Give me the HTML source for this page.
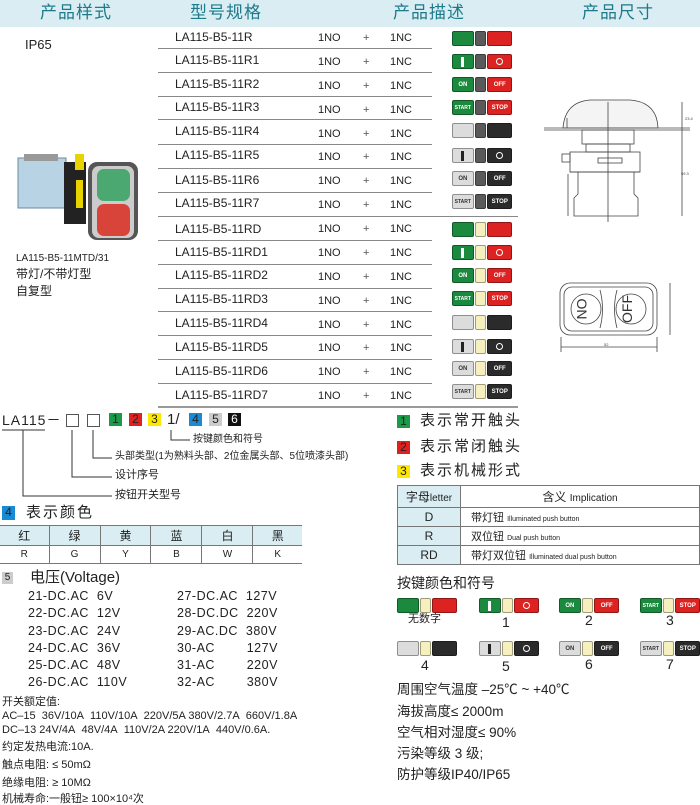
<!DOCTYPE html>
<html><head><meta charset="utf-8"><style>
*{margin:0;padding:0;box-sizing:border-box}
body{width:700px;height:804px;background:#fff;position:relative;overflow:hidden;font-family:"Liberation Sans","Noto Sans CJK SC",sans-serif;color:#222}
.t{position:absolute;white-space:nowrap;line-height:1}
.hd{position:absolute;left:0;top:0;width:700px;height:27px;background:#d9edf3}
.h{position:absolute;top:4px;font-size:17px;color:#1d7a8a;line-height:1;letter-spacing:1px}
.ln{position:absolute;height:1px;background:#888}
.ic{position:absolute;width:60px;height:15px;display:flex;gap:1px}
.ic i{display:flex;align-items:center;justify-content:center;font-style:normal;font-size:6px;font-weight:bold;color:#fff;border-radius:2px;height:15px;border:1px solid rgba(0,0,0,.35)}
.ic i:first-child{width:22px}.ic i:nth-child(2){width:12px}.ic i:last-child{width:25px}
.g{background:#1b8a3e}.r{background:#dd2222}.m{background:#5a5a5a}.y{background:#f6efbe!important}.w{background:#dcdcdc;color:#333!important}.k{background:#2b2b2b}
.bar{display:block;width:3px;height:10px;background:#fff}
.w .bar{background:#222}
.o{display:block;width:7px;height:7px;border:1px solid #fff;border-radius:50%}
.sq{position:absolute;width:13px;height:13px;font-size:12px;line-height:13px;text-align:center;color:#222}
table{border-collapse:collapse;position:absolute}
td{border:1px solid #777;text-align:center}
.col{position:absolute;top:27px;font-size:11px;line-height:23.87px}
</style></head><body>
<div class="hd"></div>
<div class="h" style="left:40px">产品样式</div>
<div class="h" style="left:190px">型号规格</div>
<div class="h" style="left:393px">产品描述</div>
<div class="h" style="left:582px">产品尺寸</div>

<div class="t" style="left:25px;top:38px;font-size:13px">IP65</div>
<svg style="position:absolute;left:14px;top:148px" width="130" height="92">
<rect x="4" y="10" width="48" height="50" fill="#b8d4e4" stroke="#6a8aa0"/>
<rect x="10" y="6" width="34" height="7" fill="#999"/>
<rect x="50" y="14" width="22" height="62" fill="#222"/>
<rect x="61" y="6" width="9" height="16" fill="#e8d200"/>
<rect x="62" y="32" width="7" height="28" fill="#e8d200"/>
<rect x="74" y="14" width="50" height="78" rx="9" fill="#555"/>
<rect x="78" y="18" width="42" height="72" rx="7" fill="#ccc"/>
<rect x="83" y="21" width="33" height="32" rx="7" fill="#4aa870"/>
<rect x="83" y="56" width="33" height="32" rx="7" fill="#d8443a"/>
</svg>
<div class="t" style="left:16px;top:254px;font-size:10px">LA115-B5-11MTD/31</div>
<div class="t" style="left:16px;top:268px;font-size:12px">带灯/不带灯型</div>
<div class="t" style="left:16px;top:285px;font-size:12px">自复型</div>

<div class="t" style="left:175px;top:31px;font-size:12px">LA115-B5-11R</div>
<div class="t" style="left:175px;top:54px;font-size:12px">LA115-B5-11R1</div>
<div class="t" style="left:175px;top:78px;font-size:12px">LA115-B5-11R2</div>
<div class="t" style="left:175px;top:101px;font-size:12px">LA115-B5-11R3</div>
<div class="t" style="left:175px;top:125px;font-size:12px">LA115-B5-11R4</div>
<div class="t" style="left:175px;top:149px;font-size:12px">LA115-B5-11R5</div>
<div class="t" style="left:175px;top:174px;font-size:12px">LA115-B5-11R6</div>
<div class="t" style="left:175px;top:197px;font-size:12px">LA115-B5-11R7</div>
<div class="t" style="left:175px;top:223px;font-size:12px">LA115-B5-11RD</div>
<div class="t" style="left:175px;top:246px;font-size:12px">LA115-B5-11RD1</div>
<div class="t" style="left:175px;top:269px;font-size:12px">LA115-B5-11RD2</div>
<div class="t" style="left:175px;top:293px;font-size:12px">LA115-B5-11RD3</div>
<div class="t" style="left:175px;top:317px;font-size:12px">LA115-B5-11RD4</div>
<div class="t" style="left:175px;top:341px;font-size:12px">LA115-B5-11RD5</div>
<div class="t" style="left:175px;top:365px;font-size:12px">LA115-B5-11RD6</div>
<div class="t" style="left:175px;top:389px;font-size:12px">LA115-B5-11RD7</div>

<div class="col" style="left:318px">
1NO<br>1NO<br>1NO<br>1NO<br>1NO<br>1NO<br>1NO<br>1NO<br>1NO<br>1NO<br>1NO<br>1NO<br>1NO<br>1NO<br>1NO<br>1NO</div>
<div class="col" style="left:363px;color:#555">+<br>+<br>+<br>+<br>+<br>+<br>+<br>+<br>+<br>+<br>+<br>+<br>+<br>+<br>+<br>+</div>
<div class="col" style="left:390px">1NC<br>1NC<br>1NC<br>1NC<br>1NC<br>1NC<br>1NC<br>1NC<br>1NC<br>1NC<br>1NC<br>1NC<br>1NC<br>1NC<br>1NC<br>1NC</div>

<div class="ln" style="left:158px;top:48px;width:274px"></div>
<div class="ln" style="left:158px;top:72px;width:274px"></div>
<div class="ln" style="left:158px;top:96px;width:274px"></div>
<div class="ln" style="left:158px;top:119px;width:274px"></div>
<div class="ln" style="left:158px;top:144px;width:274px"></div>
<div class="ln" style="left:158px;top:168px;width:274px"></div>
<div class="ln" style="left:158px;top:192px;width:274px"></div>
<div class="ln" style="left:158px;top:216px;width:360px"></div>
<div class="ln" style="left:158px;top:240px;width:274px"></div>
<div class="ln" style="left:158px;top:264px;width:274px"></div>
<div class="ln" style="left:158px;top:288px;width:274px"></div>
<div class="ln" style="left:158px;top:311px;width:274px"></div>
<div class="ln" style="left:158px;top:335px;width:274px"></div>
<div class="ln" style="left:158px;top:359px;width:274px"></div>
<div class="ln" style="left:158px;top:383px;width:274px"></div>
<div class="ln" style="left:158px;top:406px;width:360px;height:2px;background:#999"></div>

<div class="ic" style="left:452px;top:31px"><i class="g"></i><i class="m"></i><i class="r"></i></div>
<div class="ic" style="left:452px;top:54px"><i class="g"><b class="bar"></b></i><i class="m"></i><i class="r"><b class="o"></b></i></div>
<div class="ic" style="left:452px;top:77px"><i class="g">ON</i><i class="m"></i><i class="r">OFF</i></div>
<div class="ic" style="left:452px;top:100px"><i class="g" style="font-size:5px">START</i><i class="m"></i><i class="r">STOP</i></div>
<div class="ic" style="left:452px;top:123px"><i class="w"></i><i class="m"></i><i class="k"></i></div>
<div class="ic" style="left:452px;top:148px"><i class="w"><b class="bar"></b></i><i class="m"></i><i class="k"><b class="o"></b></i></div>
<div class="ic" style="left:452px;top:171px"><i class="w">ON</i><i class="m"></i><i class="k">OFF</i></div>
<div class="ic" style="left:452px;top:194px"><i class="w" style="font-size:5px">START</i><i class="m"></i><i class="k">STOP</i></div>
<div class="ic" style="left:452px;top:222px"><i class="g"></i><i class="y"></i><i class="r"></i></div>
<div class="ic" style="left:452px;top:245px"><i class="g"><b class="bar"></b></i><i class="y"></i><i class="r"><b class="o"></b></i></div>
<div class="ic" style="left:452px;top:268px"><i class="g">ON</i><i class="y"></i><i class="r">OFF</i></div>
<div class="ic" style="left:452px;top:291px"><i class="g" style="font-size:5px">START</i><i class="y"></i><i class="r">STOP</i></div>
<div class="ic" style="left:452px;top:315px"><i class="w"></i><i class="y"></i><i class="k"></i></div>
<div class="ic" style="left:452px;top:339px"><i class="w"><b class="bar"></b></i><i class="y"></i><i class="k"><b class="o"></b></i></div>
<div class="ic" style="left:452px;top:361px"><i class="w">ON</i><i class="y"></i><i class="k">OFF</i></div>
<div class="ic" style="left:452px;top:384px"><i class="w" style="font-size:5px">START</i><i class="y"></i><i class="k">STOP</i></div>

<svg style="position:absolute;left:530px;top:90px" width="170" height="275" fill="none" stroke="#444" stroke-width="0.8">
<path d="M33 38 Q35 12 60 10 L100 10 Q127 12 128 38 Z" fill="#f4f4f4"/>
<line x1="14" y1="38" x2="160" y2="38"/><line x1="14" y1="40" x2="160" y2="40"/>
<rect x="52" y="40" width="52" height="14"/><rect x="56" y="54" width="44" height="8"/>
<rect x="40" y="62" width="70" height="20"/><rect x="32" y="64" width="8" height="8"/>
<rect x="68" y="68" width="24" height="5"/>
<path d="M48 82 L48 104 L44 108 L44 126 L108 126 L108 108 L104 104 L104 82"/>
<line x1="40" y1="82" x2="110" y2="82"/>
<line x1="78" y1="12" x2="78" y2="132"/>
<line x1="152" y1="12" x2="152" y2="126"/><line x1="37" y1="28" x2="37" y2="38"/>
<line x1="38" y1="84" x2="38" y2="126"/>
<text x="155" y="30" font-size="4" fill="#444" stroke="none">23.4</text>
<text x="151" y="85" font-size="4" fill="#444" stroke="none">59.3</text>
<rect x="30" y="193" width="97" height="52" rx="10"/>
<rect x="34" y="197" width="89" height="44" rx="8"/>
<circle cx="56" cy="219" r="15"/><circle cx="101" cy="219" r="15"/>
<path d="M70 200 Q75 219 70 238 M87 200 Q82 219 87 238"/>
<text x="0" y="0" font-size="14" fill="#333" stroke="none" transform="translate(52 219) rotate(90)" text-anchor="middle" dy="5">ON</text>
<text x="0" y="0" font-size="14" fill="#333" stroke="none" transform="translate(97 219) rotate(-90)" text-anchor="middle" dy="5">OFF</text>
<line x1="31" y1="257" x2="127" y2="257"/><line x1="31" y1="247" x2="31" y2="262"/><line x1="127" y1="247" x2="127" y2="262"/>
<line x1="140" y1="193" x2="140" y2="245"/>
<text x="74" y="256" font-size="4" fill="#444" stroke="none">52</text>
</svg>

<div class="t" style="left:2px;top:413px;font-size:14px;letter-spacing:1px">LA115－</div>
<div style="position:absolute;left:66px;top:414px;width:13px;height:13px;border:1px solid #555"></div>
<div style="position:absolute;left:87px;top:414px;width:13px;height:13px;border:1px solid #555"></div>
<div class="sq" style="left:109px;top:413px;background:#1b9a4a">1</div>
<div class="sq" style="left:129px;top:413px;background:#e02020">2</div>
<div class="sq" style="left:148px;top:413px;background:#ffe800">3</div>
<div class="t" style="left:167px;top:412px;font-size:15px">1/</div>
<div class="sq" style="left:189px;top:413px;background:#1a8ad4">4</div>
<div class="sq" style="left:209px;top:413px;background:#ccc">5</div>
<div class="sq" style="left:228px;top:413px;background:#111;color:#fff">6</div>
<svg style="position:absolute;left:0;top:425px" width="200" height="75" fill="none" stroke="#333" stroke-width="1">
<path d="M2 5 H45 M23 5 V71 H112 M72 5 V52 H112 M93 5 V33 H112 M171 5 V15 H190"/>
</svg>
<div class="t" style="left:193px;top:435px;font-size:10px">按键颜色和符号</div>
<div class="t" style="left:115px;top:452px;font-size:10px">头部类型(1为熟料头部、2位金属头部、5位喷漆头部)</div>
<div class="t" style="left:115px;top:470px;font-size:11px">设计序号</div>
<div class="t" style="left:115px;top:490px;font-size:11px">按钮开关型号</div>

<div class="sq" style="left:2px;top:506px;width:13px;height:14px;background:#1a8ad4">4</div>
<div class="t" style="left:26px;top:505px;font-size:15px;letter-spacing:2px">表示颜色</div>
<table style="left:0;top:525px;width:302px;font-size:12px">
<tr style="background:#d9edf3;height:20px"><td style="border-left:none">红</td><td>绿</td><td>黄</td><td>蓝</td><td>白</td><td style="border-right:none">黑</td></tr>
<tr style="height:18px;font-size:10px"><td style="border-left:none">R</td><td>G</td><td>Y</td><td>B</td><td>W</td><td style="border-right:none">K</td></tr>
</table>

<div class="sq" style="left:2px;top:572px;width:11px;height:12px;background:#ccc;font-size:10px;line-height:12px">5</div>
<div class="t" style="left:30px;top:570px;font-size:15px">电压(Voltage)</div>
<div style="position:absolute;left:28px;top:588px;font-size:12.5px;line-height:17.3px;letter-spacing:.5px">21-DC.AC&nbsp; 6V<br>22-DC.AC&nbsp; 12V<br>23-DC.AC&nbsp; 24V<br>24-DC.AC&nbsp; 36V<br>25-DC.AC&nbsp; 48V<br>26-DC.AC&nbsp; 110V</div>
<div style="position:absolute;left:177px;top:588px;font-size:12.5px;line-height:17.3px;letter-spacing:.5px">27-DC.AC&nbsp; 127V<br>28-DC.DC&nbsp; 220V<br>29-AC.DC&nbsp; 380V<br>30-AC&nbsp;&nbsp;&nbsp;&nbsp;&nbsp;&nbsp;&nbsp; 127V<br>31-AC&nbsp;&nbsp;&nbsp;&nbsp;&nbsp;&nbsp;&nbsp; 220V<br>32-AC&nbsp;&nbsp;&nbsp;&nbsp;&nbsp;&nbsp;&nbsp; 380V</div>
<div class="t" style="left:2px;top:697px;font-size:11px">开关额定值:</div>
<div class="t" style="left:2px;top:711px;font-size:11px">AC–15&nbsp; 36V/10A&nbsp; 110V/10A&nbsp; 220V/5A 380V/2.7A&nbsp; 660V/1.8A</div>
<div class="t" style="left:2px;top:725px;font-size:11px">DC–13 24V/4A&nbsp; 48V/4A&nbsp; 110V/2A 220V/1A&nbsp; 440V/0.6A.</div>
<div class="t" style="left:2px;top:742px;font-size:11px">约定发热电流:10A.</div>
<div class="t" style="left:2px;top:760px;font-size:11px">触点电阻: ≤ 50mΩ</div>
<div class="t" style="left:2px;top:778px;font-size:11px">绝缘电阻: ≥ 10MΩ</div>
<div class="t" style="left:2px;top:794px;font-size:11px">机械寿命:一般钮≥ 100×10⁴次</div>

<div class="sq" style="left:397px;top:415px;background:#1b9a4a">1</div>
<div class="t" style="left:420px;top:413px;font-size:15px;letter-spacing:2px">表示常开触头</div>
<div class="sq" style="left:397px;top:441px;background:#e02020">2</div>
<div class="t" style="left:420px;top:439px;font-size:15px;letter-spacing:2px">表示常闭触头</div>
<div class="sq" style="left:397px;top:465px;background:#ffe800">3</div>
<div class="t" style="left:420px;top:463px;font-size:15px;letter-spacing:2px">表示机械形式</div>
<table style="left:397px;top:485px;width:303px;font-size:12px">
<tr style="height:22px"><td style="width:63px;background:#d9edf3">字母<span style="font-size:10px">letter</span></td><td>含义 <span style="font-size:10px">Implication</span></td></tr>
<tr style="height:19px"><td style="background:#d9edf3">D</td><td style="text-align:left;padding-left:10px;font-size:11px">带灯钮 <span style="font-size:7px">Illuminated push button</span></td></tr>
<tr style="height:19px"><td style="background:#d9edf3">R</td><td style="text-align:left;padding-left:10px;font-size:11px">双位钮 <span style="font-size:7px">Dual push button</span></td></tr>
<tr style="height:19px"><td style="background:#d9edf3">RD</td><td style="text-align:left;padding-left:10px;font-size:11px">带灯双位钮 <span style="font-size:7px">Illuminated dual push button</span></td></tr>
</table>
<div class="t" style="left:397px;top:576px;font-size:14px">按键颜色和符号</div>
<div class="ic" style="left:397px;top:598px"><i class="g"></i><i class="y"></i><i class="r"></i></div>
<div class="ic" style="left:479px;top:598px"><i class="g"><b class="bar"></b></i><i class="y"></i><i class="r"><b class="o"></b></i></div>
<div class="ic" style="left:559px;top:598px"><i class="g">ON</i><i class="y"></i><i class="r">OFF</i></div>
<div class="ic" style="left:640px;top:598px"><i class="g" style="font-size:5px">START</i><i class="y"></i><i class="r">STOP</i></div>
<div class="t" style="left:408px;top:614px;font-size:11px">无数字</div>
<div class="t" style="left:502px;top:615px;font-size:14px">1</div>
<div class="t" style="left:585px;top:613px;font-size:14px">2</div>
<div class="t" style="left:666px;top:613px;font-size:14px">3</div>
<div class="ic" style="left:397px;top:641px"><i class="w"></i><i class="y"></i><i class="k"></i></div>
<div class="ic" style="left:479px;top:641px"><i class="w"><b class="bar"></b></i><i class="y"></i><i class="k"><b class="o"></b></i></div>
<div class="ic" style="left:559px;top:641px"><i class="w">ON</i><i class="y"></i><i class="k">OFF</i></div>
<div class="ic" style="left:640px;top:641px"><i class="w" style="font-size:5px">START</i><i class="y"></i><i class="k">STOP</i></div>
<div class="t" style="left:421px;top:658px;font-size:14px">4</div>
<div class="t" style="left:502px;top:659px;font-size:14px">5</div>
<div class="t" style="left:585px;top:657px;font-size:14px">6</div>
<div class="t" style="left:666px;top:657px;font-size:14px">7</div>
<div class="t" style="left:397px;top:683px;font-size:13.5px">周围空气温度 –25℃ ~ +40℃</div>
<div class="t" style="left:397px;top:705px;font-size:13.5px">海拔高度≤ 2000m</div>
<div class="t" style="left:397px;top:726px;font-size:13.5px">空气相对湿度≤ 90%</div>
<div class="t" style="left:397px;top:747px;font-size:13.5px">污染等级 3 级;</div>
<div class="t" style="left:397px;top:768px;font-size:13.5px">防护等级IP40/IP65</div>
</body></html>
